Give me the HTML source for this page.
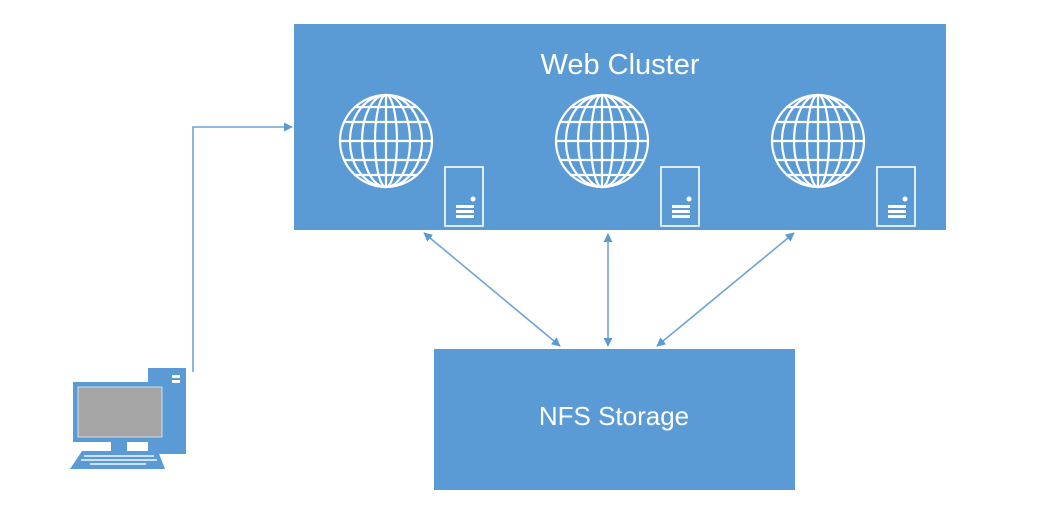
<!DOCTYPE html>
<html><head><meta charset="utf-8"><style>
html,body{margin:0;padding:0;background:#fff;}
svg{display:block;}
text{font-family:"Liberation Sans",sans-serif;fill:#fff;}
</style></head><body>
<svg width="1061" height="515" viewBox="0 0 1061 515" xmlns="http://www.w3.org/2000/svg">
<defs>
<marker id="ah" viewBox="0 0 10 10" refX="9" refY="5" markerWidth="9" markerHeight="9" orient="auto-start-reverse" markerUnits="userSpaceOnUse">
<path d="M0,0 L10,5 L0,10 z" fill="#5b9bd5"/>
</marker>
<g id="globe" fill="none" stroke="#fff" stroke-width="2.2">
<circle cx="0" cy="0" r="46"/>
<ellipse cx="0" cy="0" rx="11" ry="46"/>
<ellipse cx="0" cy="0" rx="24" ry="46"/>
<ellipse cx="0" cy="0" rx="36" ry="46"/>
<line x1="0" y1="-46" x2="0" y2="46"/>
<line x1="-46" y1="0" x2="46" y2="0"/>
<line x1="-42" y1="-19" x2="42" y2="-19"/>
<line x1="-42" y1="19" x2="42" y2="19"/>
<line x1="-32" y1="-34" x2="32" y2="-34"/>
<line x1="-32" y1="34" x2="32" y2="34"/>
</g>
<g id="srv" fill="none" stroke="#fff" stroke-width="1.6">
<rect x="0" y="0" width="38" height="59"/>
<circle cx="28" cy="32" r="2.5" fill="#fff" stroke="none"/>
<rect x="11" y="38" width="18" height="3" fill="#fff" stroke="none"/>
<rect x="11" y="43" width="18" height="3" fill="#fff" stroke="none"/>
<rect x="11" y="48" width="18" height="3" fill="#fff" stroke="none"/>
</g>
</defs>
<rect x="294" y="24" width="652" height="206" fill="#5b9bd5"/>
<text x="620" y="74" font-size="29" text-anchor="middle">Web Cluster</text>
<use href="#globe" x="386" y="141"/>
<use href="#globe" x="602" y="141"/>
<use href="#globe" x="818" y="141"/>
<use href="#srv" x="445" y="167"/>
<use href="#srv" x="661" y="167"/>
<use href="#srv" x="877" y="167"/>
<rect x="434" y="349" width="361" height="141" fill="#5b9bd5"/>
<text x="614" y="425" font-size="26" text-anchor="middle">NFS Storage</text>
<g stroke="#6fa3d8" stroke-width="1.6" fill="none">
<line x1="424" y1="233" x2="560" y2="346" marker-start="url(#ah)" marker-end="url(#ah)"/>
<line x1="608" y1="234" x2="608" y2="346" marker-start="url(#ah)" marker-end="url(#ah)"/>
<line x1="794" y1="233" x2="657" y2="346" marker-start="url(#ah)" marker-end="url(#ah)"/>
<polyline points="193,372 193,127 292,127" marker-end="url(#ah)"/>
</g>
<!-- computer -->
<rect x="148" y="368" width="38" height="86" fill="#5b9bd5"/>
<rect x="172" y="375" width="8" height="3" fill="#fff"/>
<rect x="172" y="380" width="8" height="3" fill="#fff"/>
<rect x="73" y="382" width="94" height="60" fill="#5b9bd5"/>
<rect x="78" y="387" width="84" height="50" fill="#a5a5a5" stroke="#cfe0f2" stroke-width="1"/>
<rect x="111" y="442" width="16" height="9" fill="#5b9bd5"/>
<path d="M82,451 L158,451 L165,469 L70,469 z" fill="#5b9bd5"/>
<g fill="#cfe0f2">
<rect x="84" y="455" width="70" height="2"/>
<rect x="81" y="459" width="76" height="2"/>
<rect x="90" y="463" width="56" height="2"/>
</g>
</svg>
</body></html>
